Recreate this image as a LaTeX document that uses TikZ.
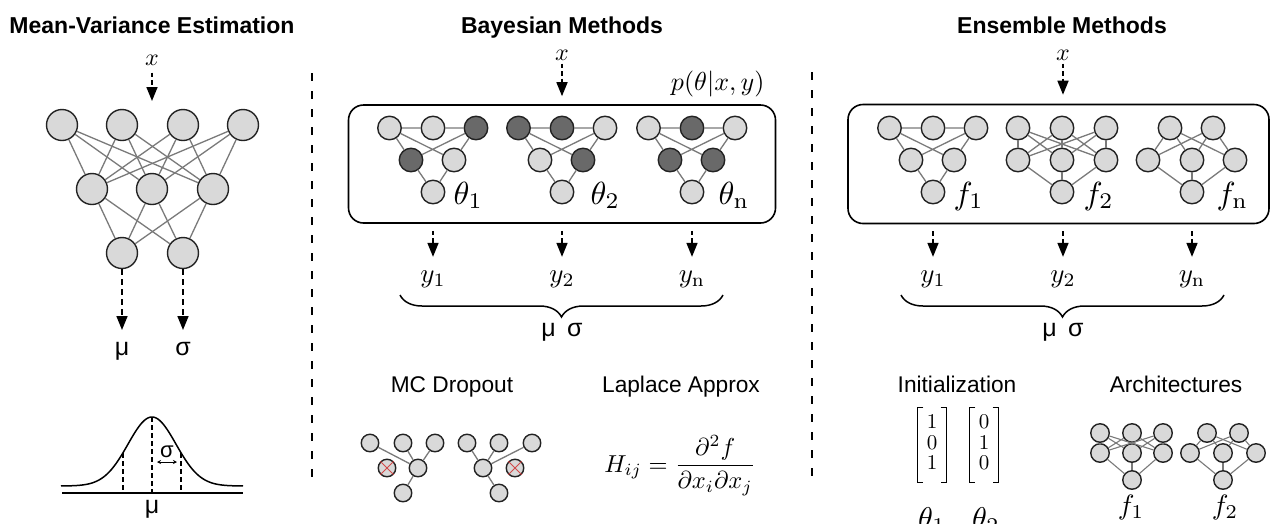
\documentclass[tikz,border=0pt]{standalone}
\usepackage{amsmath}
\usepackage{fontspec}
\setsansfont{Liberation Sans}
\usetikzlibrary{arrows.meta,decorations.pathreplacing}
\definecolor{nfill}{HTML}{D9D9D9}
\definecolor{ndark}{HTML}{696969}
\definecolor{nline}{HTML}{222222}
\definecolor{eline}{HTML}{7A7A7A}
\definecolor{xred}{HTML}{D24A4A}
\tikzset{
  neuron/.style={circle, draw=nline, fill=nfill, line width=1.4pt, inner sep=0pt},
  nbig/.style={neuron, minimum size=31pt},
  nmed/.style={neuron, minimum size=23.5pt},
  nsml/.style={neuron, minimum size=17.5pt},
  nlink/.style={draw=eline, line width=1.3pt},
  flowarrow/.style={line width=1.6pt, dash pattern=on 4.5pt off 3pt, -{Triangle[length=14pt,width=11pt]}},
  divider/.style={line width=1.8pt, dash pattern=on 8pt off 10pt},
  gdash/.style={line width=1.3pt, dash pattern=on 5pt off 3pt},
  titletext/.style={font=\fontsize{23}{27}\selectfont\sffamily\bfseries, inner sep=0pt, anchor=base},
  sublabel/.style={font=\fontsize{22.7}{27}\selectfont\sffamily, inner sep=0pt, anchor=base},
  greeklab/.style={font=\fontsize{25}{30}\selectfont\sffamily, inner sep=0pt, anchor=base},
  mathlab/.style={font=\fontsize{10}{12}\selectfont, inner sep=0pt, scale=#1},
  bracestyle/.style={line width=1.5pt, decorate, decoration={brace, mirror, amplitude=22pt}},
  panelbox/.style={draw=black, line width=1.6pt, rounded corners=15pt, inner sep=0pt},
  vecnode/.style={mathlab=2.1, font=\fontsize{10}{9.8}\selectfont, minimum width=13.5pt, minimum height=35.2pt},
  bracketline/.style={line width=1.4pt},
}
\newcommand{\trinet}[7]{%
  \node[nmed, fill=#3] (#1t1) at (#2-43.5,128) {};
  \node[nmed, fill=#4] (#1t2) at (#2,128) {};
  \node[nmed, fill=#5] (#1t3) at (#2+43,128) {};
  \node[nmed, fill=#6] (#1m1) at (#2-22,160) {};
  \node[nmed, fill=#7] (#1m2) at (#2+21,160) {};
  \node[nmed] (#1b) at (#2,192) {};
  \draw[nlink] (#1t1) -- (#1t2) (#1t2) -- (#1t3) (#1t1) -- (#1m1) (#1t1) -- (#1m2)
     (#1t3) -- (#1m1) (#1t3) -- (#1m2) (#1m1) -- (#1b) (#1m2) -- (#1b);
}
\newcommand{\brackets}[1]{%
  \draw[bracketline] ([xshift=6pt]#1.north west) -- (#1.north west) -- (#1.south west) -- ([xshift=6pt]#1.south west);
  \draw[bracketline] ([xshift=-6pt]#1.north east) -- (#1.north east) -- (#1.south east) -- ([xshift=-6pt]#1.south east);
}
\begin{document}
\begin{tikzpicture}[x=1pt,y=-1pt]
\fill[white] (0,0) rectangle (1271,523);
\useasboundingbox (0,0) rectangle (1271,523);

% ---------------- titles
\node[titletext] (t1) at (152,33) {Mean-Variance Estimation};
\node[titletext] (t2) at (562,33) {Bayesian Methods};
\node[titletext] (t3) at (1062,33) {Ensemble Methods};

% ---------------- dividers
\draw[divider] (312,73) -- (312,483);
\draw[divider] (812,72) -- (812,482);

% ---------------- Mean-variance network
\foreach \i/\x in {1/62,2/122,3/183,4/243} \node[nbig] (a\i) at (\x,125) {};
\foreach \i/\x in {1/92,2/152,3/213} \node[nbig] (b\i) at (\x,189) {};
\foreach \i/\x in {1/122,2/183} \node[nbig] (c\i) at (\x,253) {};
\foreach \i in {1,...,4} {\foreach \j in {1,2,3} {\draw[nlink] (a\i) -- (b\j);}}
\foreach \i in {1,2,3} {\foreach \j in {1,2} {\draw[nlink] (b\i) -- (c\j);}}
\node[mathlab=2.4] (mvx) at (152,60) {$x$};
\coordinate (mvin) at (152,101);
\draw[flowarrow, shorten <=7pt] (mvx) -- (mvin);
\node[greeklab] (mvmu) at (122,355) {μ};
\node[greeklab] (mvsig) at (183,355) {σ};
\coordinate (mvo1) at (122,330);
\coordinate (mvo2) at (183,330);
\draw[flowarrow, dash pattern=on 6pt off 4pt] (c1) -- (mvo1);
\draw[flowarrow, dash pattern=on 6pt off 4pt] (c2) -- (mvo2);

% ---------------- Gaussian
\draw[line width=1.5pt] plot[domain=-91:91, samples=121] ({152+\x},{486-69*exp(-(\x*\x)/(2*24*24))});
\draw[line width=1.5pt] (62,493) -- (243,493);
\draw[gdash] (152,417) -- (152,493);
\draw[gdash] (123,453) -- (123,493);
\draw[gdash] (181,453) -- (181,493);
\draw[{Stealth[length=4pt,width=4pt]}-{Stealth[length=4pt,width=4pt]}, line width=1pt] (157,462) -- (177,462);
\node[font=\fontsize{22}{26}\selectfont\sffamily, inner sep=0pt, anchor=base] (gsig) at (167,457) {σ};
\node[greeklab] (gmu) at (152,513) {μ};

% ---------------- Bayesian panel
\node[panelbox, minimum width=427pt, minimum height=118pt] (bbox) at (562,164) {};
\node[mathlab=2.4] (bx) at (562,55) {$x$};
\draw[flowarrow, shorten <=3pt, shorten >=8pt] (bx) -- (bbox.north -| bx);
\node[mathlab=2.6, anchor=base east] (bp) at (765,90) {$p(\theta|x,y)$};
\trinet{ba}{433}{nfill}{nfill}{ndark}{ndark}{nfill}
\trinet{bb}{562}{ndark}{ndark}{nfill}{nfill}{ndark}
\trinet{bc}{692}{nfill}{ndark}{nfill}{ndark}{ndark}
\node[mathlab=3.2, anchor=base west] (bth1) at (453,204) {$\theta_1$};
\node[mathlab=3.2, anchor=base west] (bth2) at (590,204) {$\theta_2$};
\node[mathlab=3.2, anchor=base west] (bthn) at (718,204) {$\theta_{\mathrm{n}}$};
\node[mathlab=2.7, anchor=base] (by1) at (433,282) {$y_1$};
\node[mathlab=2.7, anchor=base] (by2) at (562,282) {$y_2$};
\node[mathlab=2.7, anchor=base] (byn) at (692,282) {$y_{\mathrm{n}}$};
\foreach \n in {by1,by2,byn} \draw[flowarrow, shorten <=7pt, shorten >=13pt] (bbox.south -| \n) -- (\n.north);
\draw[bracestyle] (400,295) -- (723,295);
\node[greeklab] (bms) at (562,336) {μ\hspace{0.45em}σ};

\node[sublabel] (mcl) at (452,392) {MC Dropout};
\node[sublabel] (lal) at (681,392) {Laplace Approx};

% MC dropout nets
\node[nsml] (da1) at (370,443) {};
\node[nsml] (da2) at (403,443) {};
\node[nsml] (da3) at (435,443) {};
\node[nsml] (dax) at (387,468) {};
\node[nsml] (dam) at (418,468) {};
\node[nsml] (dab) at (403,493) {};
\draw[nlink] (da1) -- (dam) (da2) -- (dam) (da3) -- (dam) (dam) -- (dab);
\draw[xred, line width=1pt] (dax.north west) -- (dax.south east) (dax.north east) -- (dax.south west);
\node[nsml] (db1) at (467,443) {};
\node[nsml] (db2) at (499,443) {};
\node[nsml] (db3) at (532,443) {};
\node[nsml] (dbm) at (483,468) {};
\node[nsml] (dbx) at (515,468) {};
\node[nsml] (dbb) at (499,493) {};
\draw[nlink] (db1) -- (dbm) (db2) -- (dbm) (db3) -- (dbm) (dbm) -- (dbb);
\draw[xred, line width=1pt] (dbx.north west) -- (dbx.south east) (dbx.north east) -- (dbx.south west);

\node[mathlab=2.45, anchor=base] (lap) at (680,472)
  {$H_{ij}=\dfrac{\partial^2 f}{\partial x_i\partial x_j}$};

% ---------------- Ensemble panel
\node[panelbox, minimum width=421pt, minimum height=119pt] (ebox) at (1058.5,164) {};
\node[mathlab=2.4] (ex) at (1063,55) {$x$};
\draw[flowarrow, shorten <=3pt, shorten >=9pt] (ex) -- (ebox.north -| ex);
\trinet{ea}{933}{nfill}{nfill}{nfill}{nfill}{nfill}
\foreach \i/\x in {1/1018,2/1062,3/1106} {\node[nmed] (et\i) at (\x,128) {}; \node[nmed] (em\i) at (\x,160) {};}
\node[nmed] (eb) at (1062,192) {};
\foreach \i in {1,2,3} {\foreach \j in {1,2,3} {\draw[nlink] (et\i) -- (em\j);} \draw[nlink] (em\i) -- (eb);}
\foreach \i/\x in {1/1170,2/1213} \node[nmed] (ft\i) at (\x,128) {};
\foreach \i/\x in {1/1148,2/1192,3/1235} \node[nmed] (fm\i) at (\x,160) {};
\node[nmed] (fb) at (1192,192) {};
\foreach \i in {1,2} {\foreach \j in {1,2,3} {\draw[nlink] (ft\i) -- (fm\j);}}
\foreach \j in {1,2,3} \draw[nlink] (fm\j) -- (fb);
\node[mathlab=3.2, anchor=base west] (ef1) at (953,204) {$f_1$};
\node[mathlab=3.2, anchor=base west] (ef2) at (1083,204) {$f_2$};
\node[mathlab=3.2, anchor=base west] (efn) at (1216,204) {$f_{\mathrm{n}}$};
\node[mathlab=2.7, anchor=base] (ey1) at (933,282) {$y_1$};
\node[mathlab=2.7, anchor=base] (ey2) at (1063,282) {$y_2$};
\node[mathlab=2.7, anchor=base] (eyn) at (1192,282) {$y_{\mathrm{n}}$};
\foreach \n in {ey1,ey2,eyn} \draw[flowarrow, shorten <=7pt, shorten >=13pt] (ebox.south -| \n) -- (\n.north);
\draw[bracestyle] (901,295) -- (1224,295);
\node[greeklab] (ems) at (1063,336) {μ\hspace{0.45em}σ};

\node[sublabel] (inl) at (957,392) {Initialization};
\node[sublabel] (arl) at (1176,392) {Architectures};

\node[vecnode] (mat1) at (932,445) {$\begin{matrix}1\\0\\1\end{matrix}$};
\node[vecnode] (mat2) at (984,445) {$\begin{matrix}0\\1\\0\end{matrix}$};
\brackets{mat1}
\brackets{mat2}
\node[mathlab=3.0, anchor=base] (ith1) at (932,528) {$\theta_1$};
\node[mathlab=3.0, anchor=base] (ith2) at (986,528) {$\theta_2$};

% architecture nets
\foreach \i/\x in {1/1100,2/1132,3/1163} {\node[neuron, minimum size=18.5pt] (gt\i) at (\x,433) {}; \node[neuron, minimum size=18.5pt] (gm\i) at (\x,453) {};}
\node[neuron, minimum size=18.5pt] (gb) at (1132,480) {};
\foreach \i in {1,2,3} {\foreach \j in {1,2,3} {\draw[nlink, line width=1.1pt] (gt\i) -- (gm\j);} \draw[nlink, line width=1.1pt] (gm\i) -- (gb);}
\foreach \i/\x in {1/1207,2/1239} \node[neuron, minimum size=18.5pt] (ht\i) at (\x,433) {};
\foreach \i/\x in {1/1190,2/1223,3/1256} \node[neuron, minimum size=18.5pt] (hm\i) at (\x,453) {};
\node[neuron, minimum size=18.5pt] (hb) at (1223,480) {};
\foreach \i in {1,2} {\foreach \j in {1,2,3} {\draw[nlink, line width=1.1pt] (ht\i) -- (hm\j);}}
\foreach \j in {1,2,3} \draw[nlink, line width=1.1pt] (hm\j) -- (hb);
\node[mathlab=2.8, anchor=base] (af1) at (1131,514) {$f_1$};
\node[mathlab=2.8, anchor=base] (af2) at (1225,514) {$f_2$};
\end{tikzpicture}
\end{document}
